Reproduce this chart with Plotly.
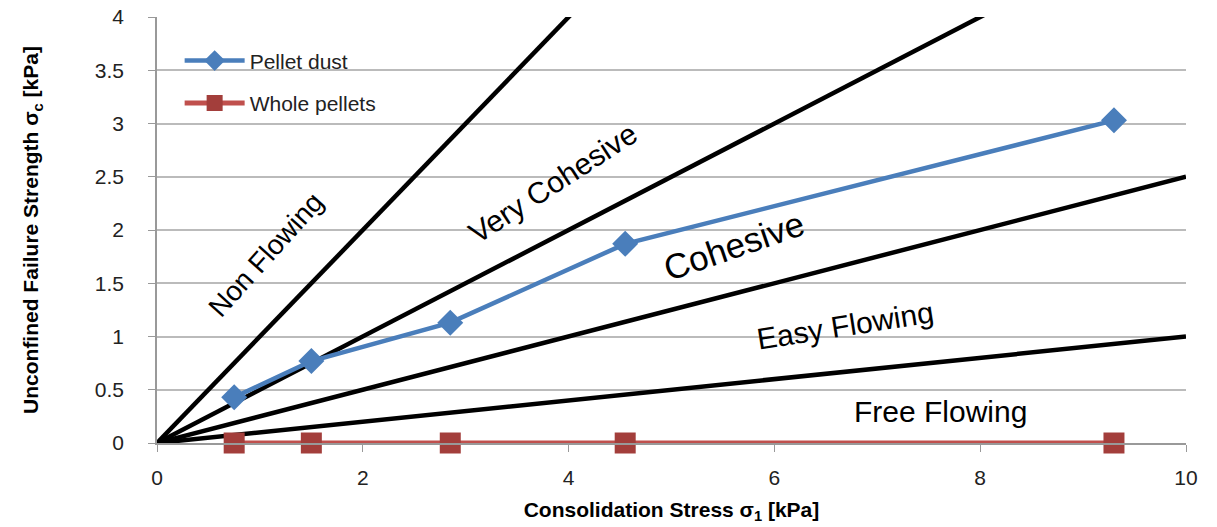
import plotly.graph_objects as go

# Data
consolidation = [0.75, 1.5, 2.85, 4.55, 9.3]
pellet_dust = [0.43, 0.77, 1.13, 1.87, 3.03]
whole_pellets = [0.0, 0.0, 0.0, 0.0, 0.0]
ffc_values = [1, 2, 4, 10]
ffc_x = [0, 10]

region_labels = ["Non Flowing", "Very Cohesive", "Cohesive", "Easy Flowing", "Free Flowing"]
region_x = [1.06, 3.84, 5.61, 6.69, 7.61]
region_y = [1.77, 2.44, 1.85, 1.10, 0.30]
region_angle = [-48, -33, -19, -9, 0]
region_size = [28, 30, 35, 30, 30]

fig = go.Figure()

for ffc in ffc_values:
    fig.add_trace(go.Scatter(
        x=ffc_x, y=[v / ffc for v in ffc_x], mode="lines",
        line=dict(color="black", width=4.5), showlegend=False, hoverinfo="skip"))

fig.add_trace(go.Scatter(
    x=consolidation, y=pellet_dust, mode="lines+markers", name="Pellet dust",
    legendgroup="a",
    line=dict(color="#4A7EBB", width=4.5),
    marker=dict(symbol="diamond", size=20, color="#4A7EBB")))

fig.add_trace(go.Scatter(
    x=consolidation, y=whole_pellets, mode="lines+markers", name="Whole pellets",
    legendgroup="b",
    line=dict(color="#C0504D", width=5),
    marker=dict(symbol="square", size=21, color="#A33E3B"), cliponaxis=False))

for t, x, y, a, s in zip(region_labels, region_x, region_y, region_angle, region_size):
    fig.add_annotation(x=x, y=y, text=t, textangle=a, showarrow=False,
                       font=dict(family="Liberation Sans, Arial", size=s, color="black"))

tickfont = dict(family="Liberation Sans, Arial", size=21, color="#222")
titlefont = dict(family="Liberation Sans, Arial", size=21, color="black", weight="bold")

fig.update_layout(
    width=1217, height=527,
    margin=dict(l=149, r=39, t=9, b=92, autoexpand=False),
    plot_bgcolor="white", paper_bgcolor="white",
    showlegend=True,
    legend=dict(x=0.022, y=0.945, xanchor="left", yanchor="top", bgcolor="rgba(255,255,255,0)",
                font=dict(family="Liberation Sans, Arial", size=21, color="#222"),
                traceorder="grouped", tracegroupgap=12, itemwidth=60),
    xaxis=dict(range=[0, 10], dtick=2, showgrid=False, zeroline=False, automargin=False,
               showline=True, linecolor="#999", linewidth=1.5,
               ticks="outside", tickcolor="#999", ticklen=7,
               ticklabelstandoff=8,
               tickfont=tickfont,
               title=dict(text="Consolidation Stress σ<sub>1</sub> [kPa]", font=titlefont, standoff=14)),
    yaxis=dict(range=[0, 4], dtick=0.5, showgrid=True, gridcolor="#BBBBBB", gridwidth=1.5,
               zeroline=False, showline=True, linecolor="#999", linewidth=1.5, automargin=False,
               ticks="outside", tickcolor="#999", ticklen=7,
               ticklabelstandoff=20, ticklabeloverflow="allow",
               tickfont=tickfont,
               title=dict(text="Unconfined Failure Strength σ<sub>c</sub> [kPa]", font=titlefont, standoff=50)),
)

fig.write_html("out.html")
